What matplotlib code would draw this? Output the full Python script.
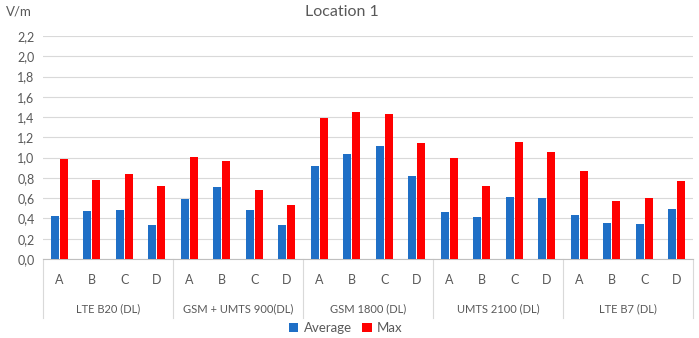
import matplotlib
matplotlib.use("Agg")
import matplotlib.pyplot as plt
import numpy as np
from matplotlib.transforms import blended_transform_factory

groups = ["LTE B20 (DL)", "GSM + UMTS 900(DL)", "GSM 1800 (DL)", "UMTS 2100 (DL)", "LTE B7 (DL)"]
sites = ["A", "B", "C", "D"]
average = [0.42, 0.47, 0.48, 0.34,
           0.59, 0.71, 0.48, 0.34,
           0.92, 1.04, 1.11, 0.82,
           0.46, 0.41, 0.61, 0.60,
           0.43, 0.36, 0.35, 0.49]
maximum = [0.99, 0.78, 0.84, 0.72,
           1.01, 0.97, 0.68, 0.53,
           1.39, 1.45, 1.43, 1.14,
           1.00, 0.72, 1.15, 1.06,
           0.87, 0.57, 0.60, 0.77]
yticks = [0.0, 0.2, 0.4, 0.6, 0.8, 1.0, 1.2, 1.4, 1.6, 1.8, 2.0, 2.2]

plt.rcParams['font.family'] = ['Lato', 'DejaVu Sans']
txt = '#595959'
W, H = 699, 338
fig = plt.figure(figsize=(W/100, H/100), dpi=100)
ax = fig.add_axes([43/W, (H-259)/H, 650/W, 223/H])

n = len(average)
x = np.arange(n)
bw = 0.24
ax.bar(x - 0.14, average, bw, color='#1F6FC6', label='Average', zorder=3)
ax.bar(x + 0.14, maximum, bw, color='#FF0000', label='Max', zorder=3)

ax.set_xlim(-0.5, n - 0.5)
ax.set_ylim(0, 2.2)
ax.set_yticks(yticks)
ax.set_yticklabels([f"{v:.1f}".replace('.', ',') for v in yticks], color=txt, fontsize=9)
ax.tick_params(axis='y', length=0, pad=6)
ax.set_xticks([])
ax.grid(axis='y', color='#d9d9d9', lw=0.8, zorder=0)
for s in ['top', 'right', 'left']:
    ax.spines[s].set_visible(False)
ax.spines['bottom'].set_color('#bfbfbf')
ax.spines['bottom'].set_linewidth(0.8)

tr = blended_transform_factory(ax.transData, ax.transAxes)
def ay(py):
    return (259 - py) / 223.0

for i in range(n):
    ax.text(x[i], ay(280), sites[i % 4], transform=tr, ha='center', va='center',
            color=txt, fontsize=9)
for g, name in enumerate(groups):
    ax.text(g * 4 + 1.5, ay(309), name, transform=tr, ha='center', va='center',
            color=txt, fontsize=8, fontstretch='condensed')
for b in range(len(groups) + 1):
    ax.plot([b * 4 - 0.5] * 2, [0, ay(318)], transform=tr, color='#d9d9d9',
            lw=0.8, clip_on=False)

fig.text(342/W, 1 - 12/H, "Location 1", ha='center', va='center', color=txt, fontsize=11.5)
fig.text(6/W, 1 - 12/H, "V/m", ha='left', va='center', color=txt, fontsize=9.5)

ax.legend(loc='center', bbox_to_anchor=(0.466, -0.31), ncol=2, frameon=False,
          fontsize=9.5, handlelength=0.7, handleheight=0.7, handletextpad=0.4,
          columnspacing=0.8, labelcolor=txt)

fig.savefig("out.png", dpi=100)
